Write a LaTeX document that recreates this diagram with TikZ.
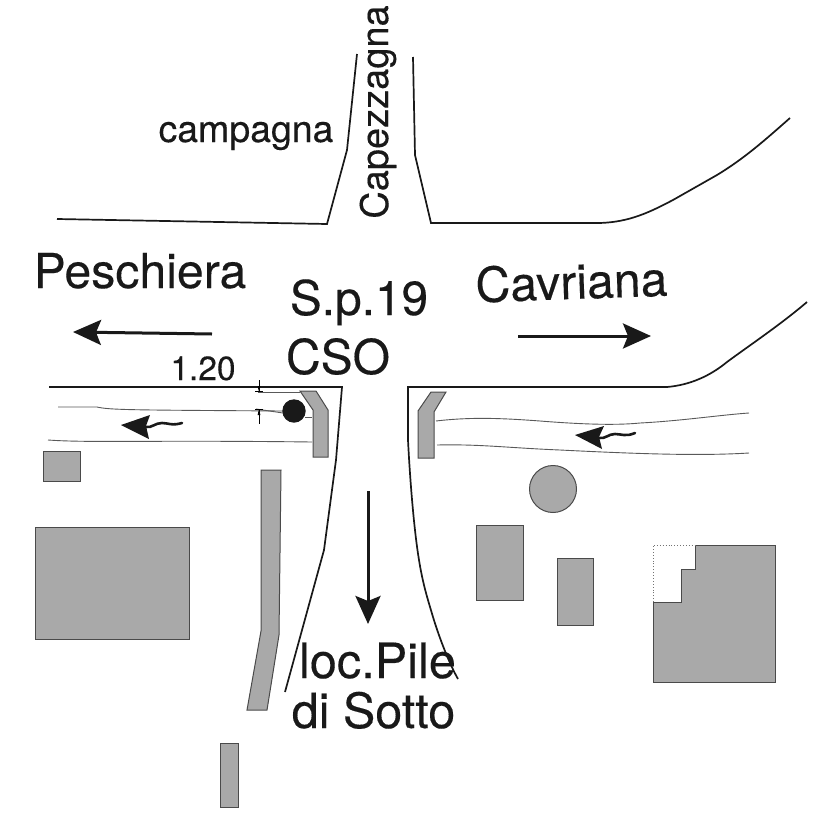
\documentclass[tikz,border=0pt]{standalone}
\usepackage{fontspec}
\setmainfont[FakeBold=0.25]{TeX Gyre Heros}
\usetikzlibrary{arrows.meta}
\definecolor{bldg}{HTML}{A9A9A9}
\definecolor{edgeg}{HTML}{4A4A4A}
\tikzset{
  road/.style={draw=black!90,line width=1.7pt,line join=miter},
  ditch/.style={draw=black!65,line width=.9pt},
  bldgshape/.style={draw=edgeg,fill=bldg,line width=1pt},
  bigarrow/.style={draw=black!90,line width=3pt,-{Stealth[length=28pt,width=25pt,inset=5pt]}},
  wavyarrow/.style={draw=black!90,line width=2.6pt,line cap=round},
  lab/.style={inner sep=0pt,text=black!90,anchor=base},
}
\newcommand{\flab}[1]{\fontsize{#1}{#1}\selectfont}
\begin{document}
\begin{tikzpicture}[x=1pt,y=-1pt]
\useasboundingbox (0,0) rectangle (827,827);
\fill[white] (0,0) rectangle (827,827);
% top roads
\draw[road] (57,219) -- (327,224) -- (347,150) -- (357,54);
\draw[road] (413,57) -- (415,155) -- (431,223) -- (600,223) .. controls (630,222) and (650,212) .. (673,200) -- (717,175) .. controls (745,158) and (765,140) .. (790,118);
% cross road lower edges
\draw[road] (49,387) -- (342,387) -- (336,460) -- (324,550) -- (285,692);
\draw[road] (807,302) .. controls (780,325) and (750,345) .. (727,362) .. controls (710,376) and (690,385) .. (667,387) -- (408,387) -- (408,440) .. controls (410,480) and (414,530) .. (419,560) .. controls (423,585) and (428,600) .. (433,617) .. controls (440,640) and (450,665) .. (458,679);
% ditches left
\draw[ditch] (58,407) -- (97,407) .. controls (110,410) and (130,410) .. (283,411);
\draw[ditch] (48,440) .. controls (90,443) and (150,440) .. (312,442);
\draw[ditch] (258,392) -- (300,392);
\draw[ditch] (305,417) -- (312,417);
\draw[ditch] (256,409) -- (283,413);
% ditches right
\draw[ditch] (436,421) .. controls (470,417) and (500,418) .. (540,421) .. controls (590,425) and (620,425) .. (640,423) .. controls (680,421) and (720,415) .. (749,413);
\draw[ditch] (437,445) .. controls (480,444) and (510,448) .. (560,450) .. controls (640,454) and (700,456) .. (749,453);
% dimension ticks
\draw[black,line width=.6pt] (259,380) -- (259,392);
\draw[black,line width=.6pt] (259,409) -- (259,424);
\draw[black,line width=.6pt] (255,391.5) -- (263,391.5);
\draw[black,line width=.6pt] (255,409.5) -- (263,409.5);
\fill[black] (259,392) -- (257.6,386) -- (260.4,386) -- cycle;
\fill[black] (259,409) -- (257.6,415) -- (260.4,415) -- cycle;
% buildings
\draw[bldgshape] (300,391) -- (316,391) -- (328,410) -- (328,457) -- (313,457) -- (313,410) -- cycle;
\draw[bldgshape] (431,392) -- (446,392) -- (434,412) -- (434,458) -- (418,458) -- (418,411) -- cycle;
\draw[bldgshape] (43,451) rectangle (80,481);
\draw[bldgshape] (35,527) rectangle (189,639);
\draw[bldgshape] (261,470) -- (281,470) -- (279,635) -- (267,710) -- (247,710) -- (261,631) -- cycle;
\draw[bldgshape] (220,743) rectangle (238,807);
\draw[bldgshape] (476,525) rectangle (523,600);
\draw[bldgshape] (557,558) rectangle (593,625);
\draw[bldgshape] (553,489) circle[radius=23.5];
\draw[bldgshape] (695,545) -- (775,545) -- (775,682) -- (653,682) -- (653,602) -- (681,602) -- (681,569) -- (695,569) -- cycle;
\draw[black!55,line width=.9pt,dotted] (653,602) -- (653,545) -- (695,545);
% post
\fill[black!90] (294,411) circle[radius=11.7];
% arrows
\draw[bigarrow] (212,334) -- (73,332);
\draw[bigarrow] (518,336) -- (651,336);
\draw[bigarrow] (368,491) -- (368,624);
% wavy arrows
\fill[black!90] (121,425) -- (150,415) -- (146,426) -- (149,439) -- cycle;
\draw[wavyarrow] (146,427) .. controls (152,428) and (155,423) .. (162,423) .. controls (168,423) and (172,426) .. (182,423);
\fill[black!90] (575,435) -- (604,426) -- (599,437) -- (602,449) -- cycle;
\draw[wavyarrow] (599,438) .. controls (606,439) and (608,434) .. (615,434) .. controls (621,434) and (626,437) .. (635,433);
% labels
\node[lab,rotate=90] (capezz) at (388,112) {\flab{38}Capezzagna};
\node[lab] (camp) at (246,142) {\flab{37.4}campagna};
\node[lab] (pesc) at (140,288) {\flab{48.2}Peschiera};
\node[lab,rotate=2] (cavr) at (572,299) {\flab{48.2}Cavriana};
\node[lab] (sp) at (359,315) {\flab{47.8}S.p.19};
\node[lab] (cso) at (338,374) {\flab{48}CSO};
\node[lab] (dim) at (203,380) {\flab{33.5}1.20};
\node[lab] (loc) at (377.5,678) {\flab{48.7}loc.Pile};
\node[lab] (sotto) at (373.5,728) {\flab{48.5}di Sotto};
\end{tikzpicture}
\end{document}
